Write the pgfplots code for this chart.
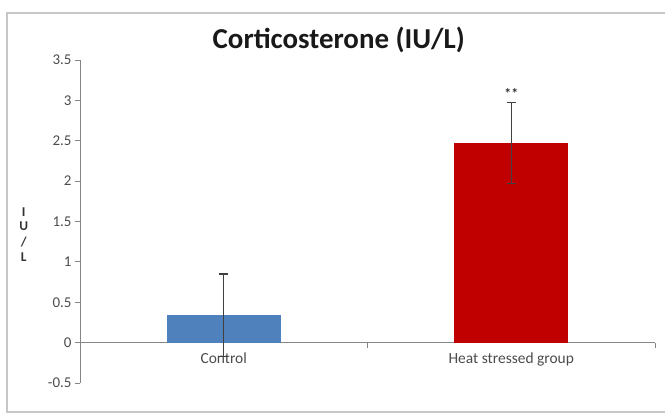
\documentclass[border=0pt]{standalone}
\usepackage{pgfplots}
\pgfplotsset{compat=1.18}
\usepackage{fontspec}
\setmainfont{Carlito}
\definecolor{xlblue}{HTML}{4F81BD}
\definecolor{xlred}{HTML}{C00000}
\definecolor{axgray}{HTML}{868686}
\begin{document}
\begin{tikzpicture}[x=1bp,y=1bp]
\begin{axis}[
  at={(0bp,0bp)}, anchor=south west,
  scale only axis, width=575bp, height=323bp,
  xmin=-0.5, xmax=1.5, ymin=-0.5, ymax=3.5,
  axis y line*=left, axis x line*=middle,
  axis line style={axgray, line width=0.9pt},
  xtick={0,1}, xticklabels={Control, Heat stressed group},
  xtick style={draw=none},
  extra x ticks={0.5,1.5}, extra x tick labels={},
  extra x tick style={xtick style={draw=axgray, line width=0.9pt}, tick align=outside},
  ytick={-0.5,0,0.5,1,1.5,2,2.5,3,3.5},
  yticklabels={-0.5,0,0.5,1,1.5,2,2.5,3,3.5},
  tick align=outside, ytick style={axgray, line width=0.9pt},
  major tick length=5bp,
  xticklabel style={font=\fontsize{15.5}{17}\selectfont, text=black!70, yshift=-2bp},
  yticklabel style={font=\fontsize{15}{17}\selectfont, text=black!70},
  ylabel={\shortstack{I\\[3pt]U\\[3pt]/\\[3pt]L}},
  ylabel style={rotate=-90, font=\fontsize{13.5}{15}\selectfont\bfseries, text=black!80, at={(axis description cs:-0.098,0.46)}, anchor=center},
  title={Corticosterone (IU/L)},
  title style={font=\fontsize{29}{32}\selectfont\bfseries, text=black!90, at={(axis description cs:0.45,1.0)}, anchor=south, yshift=-2bp},
  ybar, bar width=114bp, bar shift=0pt,
  clip=false,
]
\addplot[fill=xlblue, draw=none,
  error bars/.cd, y dir=both, y explicit, error bar style={black!75, line width=0.9pt}, error mark options={rotate=90, mark size=4.5bp, draw=black!75, line width=1.3pt}]
  coordinates {(0,0.34) +- (0,0.51)};
\addplot[fill=xlred, draw=none,
  error bars/.cd, y dir=both, y explicit, error bar style={black!75, line width=0.9pt}, error mark options={rotate=90, mark size=4.5bp, draw=black!75, line width=1.3pt}]
  coordinates {(1,2.47) +- (0,0.5)};
\node[font=\fontsize{14}{15}\selectfont\bfseries, text=black!80] at (axis cs:1,3.08) {**};
\end{axis}
\draw[black!22, line width=1.5pt] (600bp,370bp) -- (-73bp,370bp) -- (-73bp,-29bp) -- (600bp,-29bp);
\pgfresetboundingbox
\path (-80bp,-31bp) rectangle (585bp,383bp);
\end{tikzpicture}
\end{document}
